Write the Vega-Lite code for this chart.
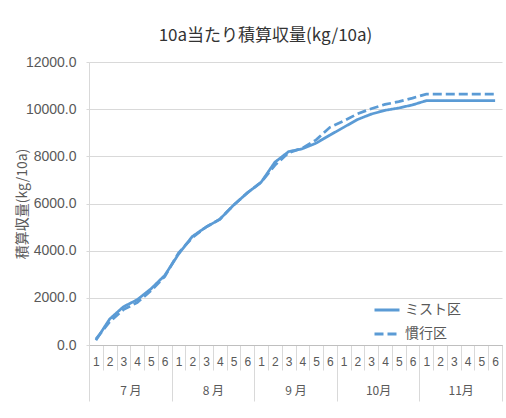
{
  "$schema": "https://vega.github.io/schema/vega-lite/v6.json",
  "width": 413,
  "height": 283,
  "autosize": {"type": "none"},
  "padding": {"left": 89, "top": 62, "right": 4, "bottom": 73},
  "background": "white",
  "config": {
    "font": "Noto Sans CJK JP",
    "view": {"stroke": null}
  },
  "title": {
    "text": "10a当たり積算収量(kg/10a)",
    "fontSize": 17,
    "fontWeight": "normal",
    "color": "#333333",
    "anchor": "middle",
    "dx": -30,
    "offset": 10
  },
  "data": {
    "values": [
      {"key": "7-1", "month": "7 月", "series": "ミスト区", "value": 200},
      {"key": "7-2", "month": "7 月", "series": "ミスト区", "value": 1100},
      {"key": "7-3", "month": "7 月", "series": "ミスト区", "value": 1620},
      {"key": "7-4", "month": "7 月", "series": "ミスト区", "value": 1920},
      {"key": "7-5", "month": "7 月", "series": "ミスト区", "value": 2380},
      {"key": "7-6", "month": "7 月", "series": "ミスト区", "value": 2950},
      {"key": "8-1", "month": "8 月", "series": "ミスト区", "value": 3850},
      {"key": "8-2", "month": "8 月", "series": "ミスト区", "value": 4600},
      {"key": "8-3", "month": "8 月", "series": "ミスト区", "value": 5000},
      {"key": "8-4", "month": "8 月", "series": "ミスト区", "value": 5330},
      {"key": "8-5", "month": "8 月", "series": "ミスト区", "value": 5930},
      {"key": "8-6", "month": "8 月", "series": "ミスト区", "value": 6450},
      {"key": "9-1", "month": "9 月", "series": "ミスト区", "value": 6900},
      {"key": "9-2", "month": "9 月", "series": "ミスト区", "value": 7750},
      {"key": "9-3", "month": "9 月", "series": "ミスト区", "value": 8200},
      {"key": "9-4", "month": "9 月", "series": "ミスト区", "value": 8320},
      {"key": "9-5", "month": "9 月", "series": "ミスト区", "value": 8560},
      {"key": "9-6", "month": "9 月", "series": "ミスト区", "value": 8900},
      {"key": "10-1", "month": "10月", "series": "ミスト区", "value": 9230},
      {"key": "10-2", "month": "10月", "series": "ミスト区", "value": 9560},
      {"key": "10-3", "month": "10月", "series": "ミスト区", "value": 9790},
      {"key": "10-4", "month": "10月", "series": "ミスト区", "value": 9950},
      {"key": "10-5", "month": "10月", "series": "ミスト区", "value": 10050},
      {"key": "10-6", "month": "10月", "series": "ミスト区", "value": 10180},
      {"key": "11-1", "month": "11月", "series": "ミスト区", "value": 10360},
      {"key": "11-2", "month": "11月", "series": "ミスト区", "value": 10360},
      {"key": "11-3", "month": "11月", "series": "ミスト区", "value": 10360},
      {"key": "11-4", "month": "11月", "series": "ミスト区", "value": 10360},
      {"key": "11-5", "month": "11月", "series": "ミスト区", "value": 10360},
      {"key": "11-6", "month": "11月", "series": "ミスト区", "value": 10360},
      {"key": "7-1", "month": "7 月", "series": "慣行区", "value": 250},
      {"key": "7-2", "month": "7 月", "series": "慣行区", "value": 980},
      {"key": "7-3", "month": "7 月", "series": "慣行区", "value": 1500},
      {"key": "7-4", "month": "7 月", "series": "慣行区", "value": 1800},
      {"key": "7-5", "month": "7 月", "series": "慣行区", "value": 2300},
      {"key": "7-6", "month": "7 月", "series": "慣行区", "value": 2900},
      {"key": "8-1", "month": "8 月", "series": "慣行区", "value": 3900},
      {"key": "8-2", "month": "8 月", "series": "慣行区", "value": 4550},
      {"key": "8-3", "month": "8 月", "series": "慣行区", "value": 5000},
      {"key": "8-4", "month": "8 月", "series": "慣行区", "value": 5330},
      {"key": "8-5", "month": "8 月", "series": "慣行区", "value": 5930},
      {"key": "8-6", "month": "8 月", "series": "慣行区", "value": 6450},
      {"key": "9-1", "month": "9 月", "series": "慣行区", "value": 6900},
      {"key": "9-2", "month": "9 月", "series": "慣行区", "value": 7620},
      {"key": "9-3", "month": "9 月", "series": "慣行区", "value": 8150},
      {"key": "9-4", "month": "9 月", "series": "慣行区", "value": 8350},
      {"key": "9-5", "month": "9 月", "series": "慣行区", "value": 8700},
      {"key": "9-6", "month": "9 月", "series": "慣行区", "value": 9230},
      {"key": "10-1", "month": "10月", "series": "慣行区", "value": 9500},
      {"key": "10-2", "month": "10月", "series": "慣行区", "value": 9800},
      {"key": "10-3", "month": "10月", "series": "慣行区", "value": 10020},
      {"key": "10-4", "month": "10月", "series": "慣行区", "value": 10200},
      {"key": "10-5", "month": "10月", "series": "慣行区", "value": 10320},
      {"key": "10-6", "month": "10月", "series": "慣行区", "value": 10470},
      {"key": "11-1", "month": "11月", "series": "慣行区", "value": 10640},
      {"key": "11-2", "month": "11月", "series": "慣行区", "value": 10640},
      {"key": "11-3", "month": "11月", "series": "慣行区", "value": 10640},
      {"key": "11-4", "month": "11月", "series": "慣行区", "value": 10640},
      {"key": "11-5", "month": "11月", "series": "慣行区", "value": 10640},
      {"key": "11-6", "month": "11月", "series": "慣行区", "value": 10640}
    ]
  },
  "encoding": {
    "y": {
      "field": "value",
      "type": "quantitative",
      "scale": {"domain": [0, 12000], "nice": false},
      "axis": {
        "title": "積算収量(kg/10a)",
        "titleFontSize": 14,
        "titleFontWeight": "normal",
        "titleColor": "#595959",
        "titleX": -67,
        "titleY": 141.5,
        "titleAlign": "center",
        "titleBaseline": "middle",
        "titleAngle": 270,
        "values": [0, 2000, 4000, 6000, 8000, 10000, 12000],
        "format": ".1f",
        "labelFont": "Liberation Sans",
        "labelFontSize": 14,
        "labelColor": "#595959",
        "labelPadding": 10,
        "tickSize": 3,
        "tickColor": "#d9d9d9",
        "domain": true,
        "domainColor": "#d9d9d9",
        "gridColor": "#d9d9d9",
        "gridWidth": 1
      }
    }
  },
  "layer": [
    {
      "mark": {"type": "line", "strokeWidth": 2.75, "color": "#5B9BD5"},
      "encoding": {
        "x": {
          "field": "key",
          "type": "ordinal",
          "sort": null,
          "bandPosition": 0.5,
          "scale": {"type": "band", "paddingInner": 0, "paddingOuter": 0},
          "axis": {
            "title": null,
            "orient": "bottom",
            "labelExpr": "split(datum.value, '-')[1]",
            "labelAngle": 0,
            "labelFont": "Liberation Sans",
            "labelFontSize": 12,
            "labelColor": "#595959",
            "tickBand": "extent",
            "tickSize": 25,
            "tickColor": "#d9d9d9",
            "labelPadding": -14,
            "domainColor": "#bfbfbf",
            "grid": false
          }
        },
        "strokeDash": {
          "field": "series",
          "type": "nominal",
          "scale": {"domain": ["ミスト区", "慣行区"], "range": [[1, 0], [9, 4]]},
          "legend": {
            "title": null,
            "orient": "none",
            "legendX": 284,
            "legendY": 234,
            "padding": 0,
            "symbolType": "stroke",
            "symbolSize": 625,
            "symbolStrokeColor": "#5B9BD5",
            "symbolStrokeWidth": 3,
            "labelFontSize": 14,
            "labelColor": "#595959",
            "labelOffset": 4,
            "rowPadding": 3
          }
        }
      }
    },
    {
      "mark": {"type": "point", "opacity": 0},
      "encoding": {
        "x": {
          "field": "month",
          "type": "ordinal",
          "sort": null,
          "scale": {"type": "band", "paddingInner": 0, "paddingOuter": 0},
          "axis": {
            "title": null,
            "orient": "bottom",
            "labelAngle": 0,
            "labelFontSize": 12,
            "labelColor": "#595959",
            "tickBand": "extent",
            "tickSize": 56,
            "tickColor": "#d9d9d9",
            "labelPadding": -16,
            "domainColor": "#bfbfbf",
            "grid": false
          }
        }
      }
    }
  ],
  "resolve": {"scale": {"x": "independent"}, "axis": {"x": "independent"}}
}
